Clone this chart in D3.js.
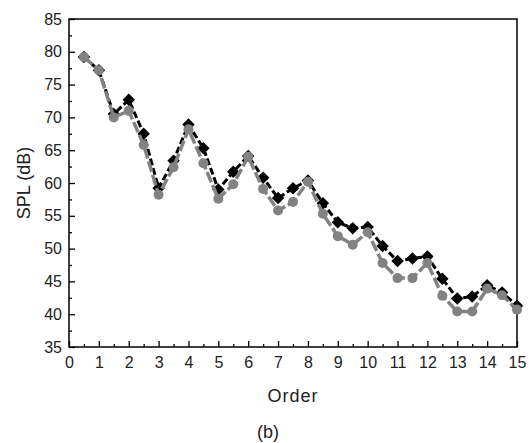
<!DOCTYPE html>
<html>
<head>
<meta charset="utf-8">
<script src="https://cdn.jsdelivr.net/npm/d3@7"></script>
<style>
  body { margin: 0; background: #fff; }
  svg { font-family: "Liberation Sans", Arial, sans-serif; }
</style>
</head>
<body>
<svg id="chart" width="529" height="443"></svg>
<script>
// order values (x)
var orders = [0.5, 1, 1.5, 2, 2.5, 3, 3.5, 4, 4.5, 5, 5.5, 6, 6.5, 7, 7.5, 8, 8.5, 9, 9.5, 10,
              10.5, 11, 11.5, 12, 12.5, 13, 13.5, 14, 14.5, 15];
// black diamonds
var splBlack = [79.2, 77.2, 70.5, 72.7, 67.5, 59.2, 63.4, 68.9, 65.3, 59.0, 61.7, 64.1, 60.8, 57.7, 59.2, 60.4,
                56.9, 54.0, 53.1, 53.3, 50.4, 48.1, 48.5, 48.8, 45.4, 42.4, 42.7, 44.4, 43.3, 41.3];
// gray circles
var splGray = [79.2, 77.2, 70.0, 71.0, 65.8, 58.2, 62.4, 68.2, 63.0, 57.6, 59.8, 64.0, 59.1, 55.8, 57.1, 60.2,
               55.3, 51.9, 50.6, 52.5, 47.8, 45.5, 45.5, 47.8, 42.8, 40.4, 40.4, 43.9, 42.9, 40.7];
var xTicks = d3.range(0, 16, 1);
var yTicks = d3.range(35, 86, 5);

var svg = d3.select('#chart');
var plotL = 69, plotR = 517, plotT = 19, plotB = 347;

var x = d3.scaleLinear().domain([0, 15]).range([plotL, plotR]);
var y = d3.scaleLinear().domain([35, 85]).range([plotB, plotT]);

// frame
svg.append('rect')
    .attr('x', plotL).attr('y', plotT)
    .attr('width', plotR - plotL).attr('height', plotB - plotT)
    .attr('fill', 'none').attr('stroke', '#000').attr('stroke-width', 1.5);

// x axis (ticks inward)
svg.append('g').attr('transform', 'translate(0,' + plotB + ')')
    .call(d3.axisBottom(x).tickValues(xTicks).tickSizeInner(-6).tickSizeOuter(0).tickPadding(10));
svg.append('g').attr('transform', 'translate(0,' + plotB + ')')
    .call(d3.axisBottom(x).tickValues(d3.range(0.5, 15, 1)).tickSizeInner(-3).tickSizeOuter(0).tickFormat(''));

// y axis
svg.append('g').attr('transform', 'translate(' + plotL + ',0)')
    .call(d3.axisLeft(y).tickValues(yTicks).tickSizeInner(-6).tickSizeOuter(0).tickPadding(7));
svg.append('g').attr('transform', 'translate(' + plotL + ',0)')
    .call(d3.axisLeft(y).tickValues(d3.range(37.5, 85, 5)).tickSizeInner(-3).tickSizeOuter(0).tickFormat(''));

svg.selectAll('.domain').remove();
svg.selectAll('.tick line').attr('stroke', '#000').attr('stroke-width', 1.3);
svg.selectAll('g').attr('font-family', '"Liberation Sans", Arial, sans-serif').attr('font-size', 16);
svg.selectAll('.tick text').attr('fill', '#222');

// axis titles
svg.append('text')
    .attr('x', 293).attr('y', 402)
    .attr('text-anchor', 'middle').attr('font-size', 18).attr('letter-spacing', 1).attr('fill', '#222')
    .text('Order');
svg.append('text')
    .attr('transform', 'translate(30,183) rotate(-90)')
    .attr('text-anchor', 'middle').attr('font-size', 18).attr('fill', '#222')
    .text('SPL (dB)');
svg.append('text')
    .attr('x', 268).attr('y', 438)
    .attr('text-anchor', 'middle').attr('font-size', 18).attr('fill', '#222')
    .text('(b)');

var blackData = orders.map(function (o, i) { return [o, splBlack[i]]; });
var grayData = orders.map(function (o, i) { return [o, splGray[i]]; });

var line = d3.line()
    .x(function (d) { return x(d[0]); })
    .y(function (d) { return y(d[1]); });

// black series first, gray drawn on top
svg.append('path').datum(blackData)
    .attr('d', line).attr('fill', 'none')
    .attr('stroke', '#000').attr('stroke-width', 3).attr('stroke-dasharray', '7,3');

svg.selectAll('.dia').data(blackData).enter().append('path')
    .attr('class', 'dia')
    .attr('d', d3.symbol().type(d3.symbolSquare).size(78))
    .attr('transform', function (d) { return 'translate(' + x(d[0]) + ',' + y(d[1]) + ') rotate(45)'; })
    .attr('fill', '#000');

svg.append('path').datum(grayData)
    .attr('d', line).attr('fill', 'none')
    .attr('stroke', '#828282').attr('stroke-width', 3.5).attr('stroke-dasharray', '11,3');

svg.selectAll('.dot').data(grayData).enter().append('circle')
    .attr('class', 'dot')
    .attr('cx', function (d) { return x(d[0]); })
    .attr('cy', function (d) { return y(d[1]); })
    .attr('r', 5)
    .attr('fill', '#828282');
</script>
</body>
</html>
